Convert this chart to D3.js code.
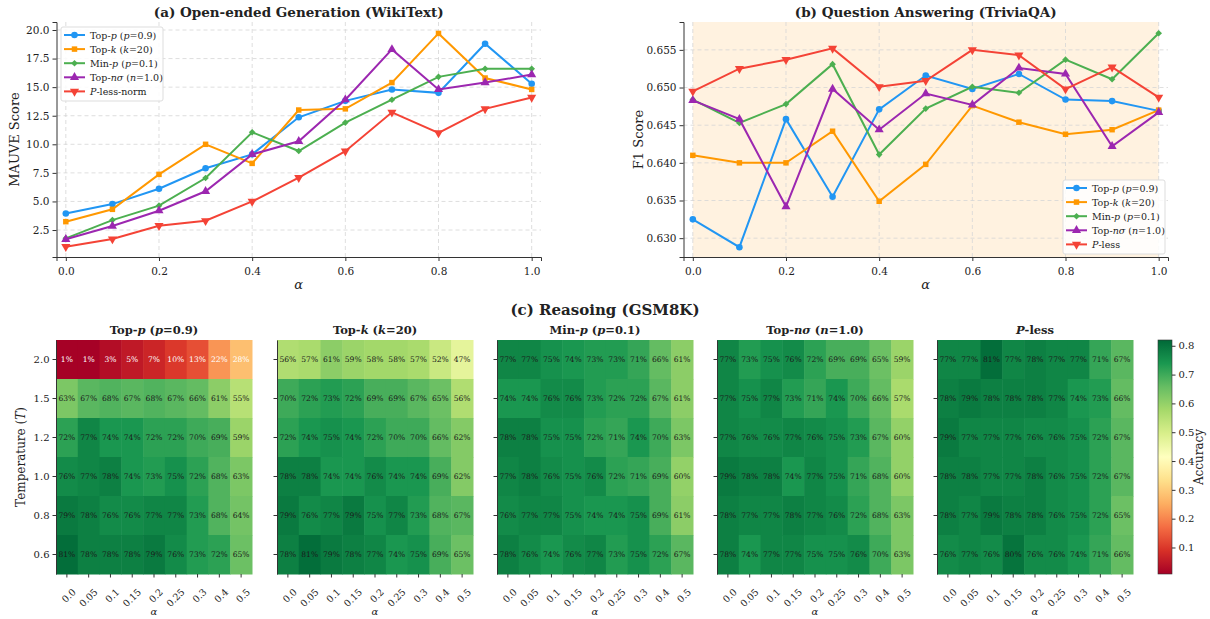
<!DOCTYPE html>
<html>
<head>
<meta charset="utf-8">
<script src="https://cdn.jsdelivr.net/npm/d3@7"></script>
<style>
  body { margin: 0; background: #fff; }
  svg text { font-family: "DejaVu Serif", serif; fill: #222; }
  .grid line { stroke: #d5d5d5; stroke-dasharray: 4,3; stroke-width: 0.8; }
  .axis path, .axis line { stroke: #333; }
</style>
</head>
<body>
<svg id="fig" width="1210" height="619"></svg>
<script>
'use strict'

// ---- data ----
const alphas = [0, 0.1, 0.2, 0.3, 0.4, 0.5, 0.6, 0.7, 0.8, 0.9, 1.0];

const mauveTopP  = [3.95, 4.77, 6.11, 7.90, 9.12, 12.36, 13.8, 14.8, 14.5, 18.8, 15.3];
const mauveTopK  = [3.23, 4.31, 7.37, 10.0, 8.33, 13.0, 13.1, 15.4, 19.7, 15.8, 14.8];
const mauveMinP  = [1.77, 3.37, 4.63, 7.05, 11.05, 9.41, 11.9, 13.9, 15.9, 16.6, 16.6];
const mauveTopN  = [1.69, 2.85, 4.19, 5.89, 9.12, 10.26, 13.9, 18.3, 14.8, 15.4, 16.1];
const mauvePless = [1.04, 1.71, 2.88, 3.31, 5.0, 7.08, 9.4, 12.8, 11.0, 13.1, 14.1];

const f1TopP  = [0.6325, 0.6288, 0.6458, 0.6355, 0.6471, 0.6516, 0.6498, 0.6518, 0.6484, 0.6482, 0.6469];
const f1TopK  = [0.6410, 0.6400, 0.6400, 0.6442, 0.6349, 0.6398, 0.6476, 0.6454, 0.6438, 0.6444, 0.6470];
const f1MinP  = [0.6484, 0.6453, 0.6478, 0.6531, 0.6411, 0.6472, 0.6501, 0.6493, 0.6537, 0.6511, 0.6572];
const f1TopN  = [0.6483, 0.6458, 0.6342, 0.6498, 0.6444, 0.6492, 0.6477, 0.6526, 0.6518, 0.6422, 0.6467];
const f1Pless = [0.6495, 0.6525, 0.6537, 0.6552, 0.6501, 0.6509, 0.6550, 0.6543, 0.6498, 0.6527, 0.6487];

const mauveTicks = [2.5, 5.0, 7.5, 10.0, 12.5, 15.0, 17.5, 20.0];
const f1Ticks = [0.630, 0.635, 0.640, 0.645, 0.650, 0.655];

const temps = ["2.0", "1.5", "1.2", "1.0", "0.8", "0.6"];
const heatAlphas = ["0.0", "0.05", "0.1", "0.15", "0.2", "0.25", "0.3", "0.4", "0.5"];

const accTopP = [
  [1, 1, 3, 5, 7, 10, 13, 22, 28],
  [63, 67, 68, 67, 68, 67, 66, 61, 55],
  [72, 77, 74, 74, 72, 72, 70, 69, 59],
  [76, 77, 78, 74, 73, 75, 72, 68, 63],
  [79, 78, 76, 76, 77, 77, 73, 68, 64],
  [81, 78, 78, 78, 79, 76, 73, 72, 65]
];
const accTopK = [
  [56, 57, 61, 59, 58, 58, 57, 52, 47],
  [70, 72, 73, 72, 69, 69, 67, 65, 56],
  [72, 74, 75, 74, 72, 70, 70, 66, 62],
  [78, 78, 74, 74, 76, 74, 74, 69, 62],
  [79, 76, 77, 79, 75, 77, 73, 68, 67],
  [78, 81, 79, 78, 77, 74, 75, 69, 65]
];
const accMinP = [
  [77, 77, 75, 74, 73, 73, 71, 66, 61],
  [74, 74, 76, 76, 73, 72, 72, 67, 61],
  [78, 78, 75, 75, 72, 71, 74, 70, 63],
  [77, 78, 76, 75, 76, 72, 71, 69, 60],
  [76, 77, 77, 75, 74, 74, 75, 69, 61],
  [78, 76, 74, 76, 77, 73, 75, 72, 67]
];
const accTopN = [
  [77, 73, 75, 76, 72, 69, 69, 65, 59],
  [77, 75, 77, 73, 71, 74, 70, 66, 57],
  [77, 76, 76, 77, 76, 75, 73, 67, 60],
  [79, 78, 78, 74, 77, 75, 71, 68, 60],
  [78, 77, 77, 78, 77, 76, 72, 68, 63],
  [78, 74, 77, 77, 75, 75, 76, 70, 63]
];
const accPless = [
  [77, 77, 81, 77, 78, 77, 77, 71, 67],
  [78, 79, 78, 78, 78, 77, 74, 73, 66],
  [79, 77, 77, 77, 76, 76, 75, 72, 67],
  [78, 78, 77, 77, 78, 76, 75, 72, 67],
  [78, 77, 79, 78, 78, 76, 75, 72, 65],
  [76, 77, 76, 80, 76, 76, 74, 71, 66]
];
const cbarTicks = [0.1, 0.2, 0.3, 0.4, 0.5, 0.6, 0.7, 0.8];

// label pieces: [text, italic]
const labTopP = [["Top-", 0], ["p", 1], [" (", 0], ["p", 1], ["=0.9)", 0]];
const labTopK = [["Top-", 0], ["k", 1], [" (", 0], ["k", 1], ["=20)", 0]];
const labMinP = [["Min-", 0], ["p", 1], [" (", 0], ["p", 1], ["=0.1)", 0]];
const labTopN = [["Top-", 0], ["nσ", 1], [" (", 0], ["n", 1], ["=1.0)", 0]];
const labPlessNorm = [["P", 1], ["-less-norm", 0]];
const labPless = [["P", 1], ["-less", 0]];

const colors = ["#2196F3", "#FF9800", "#4CAF50", "#9C27B0", "#F44336"];
const markers = ["circle", "square", "diamond", "tri", "tridown"];

const svg = d3.select("#fig");

function addRich(sel, parts) {
  parts.forEach(p => {
    sel.append("tspan").text(p[0]).style("font-style", p[1] ? "italic" : "normal");
  });
  return sel;
}

function markerPath(kind) {
  if (kind === "circle") return d3.symbol(d3.symbolCircle, 34)();
  if (kind === "square") return d3.symbol(d3.symbolSquare, 30)();
  if (kind === "diamond") return d3.symbol(d3.symbolSquare, 22)();
  return d3.symbol(d3.symbolTriangle, 36)();
}
function markerRot(kind) {
  if (kind === "diamond") return " rotate(45)";
  if (kind === "tridown") return " rotate(180)";
  return "";
}

function lineChart(o) {
  const g = svg.append("g");
  const x = d3.scaleLinear().domain([-0.02, 1.02]).range([o.left, o.right]);
  const y = d3.scaleLinear().domain(o.ydom).range([o.bottom, o.top]);

  if (o.band) {
    g.append("rect")
      .attr("x", x(0)).attr("width", x(1) - x(0))
      .attr("y", o.top).attr("height", o.bottom - o.top)
      .attr("fill", "#FF9800").attr("fill-opacity", 0.12);
  }

  const grid = g.append("g").attr("class", "grid");
  grid.selectAll("line.gx").data(x.ticks(5)).join("line")
    .attr("x1", d => x(d)).attr("x2", d => x(d))
    .attr("y1", o.top).attr("y2", o.bottom);
  grid.selectAll("line.gy").data(o.yticks).join("line")
    .attr("y1", d => y(d)).attr("y2", d => y(d))
    .attr("x1", o.left).attr("x2", o.right);

  g.append("g").attr("class", "axis")
    .attr("transform", "translate(0," + o.bottom + ")")
    .call(d3.axisBottom(x).ticks(5).tickFormat(d3.format(".1f")).tickSizeOuter(0).tickSize(4))
    .call(s => s.selectAll("text").attr("font-size", 10.5).attr("dy", "1.0em"));
  g.append("g").attr("class", "axis")
    .attr("transform", "translate(" + o.left + ",0)")
    .call(d3.axisLeft(y).tickValues(o.yticks).tickFormat(d3.format(o.fmt)).tickSizeOuter(0).tickSize(4))
    .call(s => s.selectAll("text").attr("font-size", 10.5));
  g.selectAll(".axis text").attr("font-family", "DejaVu Serif").attr("fill", "#222");

  const line = d3.line().x((d, i) => x(alphas[i])).y(d => y(d));
  o.series.forEach((s, k) => {
    g.append("path").datum(s).attr("d", line)
      .attr("fill", "none").attr("stroke", colors[k]).attr("stroke-width", 2);
    g.selectAll(null).data(s).join("path")
      .attr("d", markerPath(markers[k]))
      .attr("transform", (d, i) => "translate(" + x(alphas[i]) + "," + y(d) + ")" + markerRot(markers[k]))
      .attr("fill", colors[k]);
  });

  // title & labels
  svg.append("text").attr("x", (o.left + o.right) / 2).attr("y", 17)
    .attr("text-anchor", "middle").attr("font-size", 13.5).attr("font-weight", "bold")
    .text(o.title);
  svg.append("text").attr("x", (o.left + o.right) / 2).attr("y", 289)
    .attr("text-anchor", "middle").attr("font-size", 13).attr("font-style", "italic")
    .text("α");
  svg.append("text")
    .attr("transform", "translate(" + o.ylabX + "," + (o.top + o.bottom) / 2 + ") rotate(-90)")
    .attr("text-anchor", "middle").attr("font-size", 13).text(o.ylabel);

  // legend
  const lg = svg.append("g").attr("transform", "translate(" + o.leg[0] + "," + o.leg[1] + ")");
  lg.append("rect").attr("width", o.leg[2]).attr("height", 74).attr("rx", 2)
    .attr("fill", "#fff").attr("fill-opacity", 0.85).attr("stroke", "#ddd");
  o.labels.forEach((lab, k) => {
    const yy = 8 + k * 14.1;
    lg.append("line").attr("x1", 3).attr("x2", 24).attr("y1", yy).attr("y2", yy)
      .attr("stroke", colors[k]).attr("stroke-width", 2);
    lg.append("path").attr("d", markerPath(markers[k]))
      .attr("transform", "translate(13.5," + yy + ")" + markerRot(markers[k]))
      .attr("fill", colors[k]);
    addRich(lg.append("text").attr("x", 29).attr("y", yy + 3.5).attr("font-size", 9.5), lab);
  });
}

lineChart({
  left: 56.5, right: 541, top: 22, bottom: 257,
  ydom: [0.14, 20.7], yticks: mauveTicks, fmt: ".1f",
  series: [mauveTopP, mauveTopK, mauveMinP, mauveTopN, mauvePless],
  labels: [labTopP, labTopK, labMinP, labTopN, labPlessNorm],
  title: "(a) Open-ended Generation (WikiText)", ylabel: "MAUVE Score", ylabX: 19,
  leg: [61, 27, 102]
});

lineChart({
  left: 683.5, right: 1168, top: 22, bottom: 257,
  ydom: [0.6275, 0.6587], yticks: f1Ticks, fmt: ".3f", band: true,
  series: [f1TopP, f1TopK, f1MinP, f1TopN, f1Pless],
  labels: [labTopP, labTopK, labMinP, labTopN, labPless],
  title: "(b) Question Answering (TriviaQA)", ylabel: "F1 Score", ylabX: 643,
  leg: [1063, 180, 102]
});

// ---- heatmaps ----
svg.append("text").attr("x", 605).attr("y", 315).attr("text-anchor", "middle")
  .attr("font-size", 15).attr("font-weight", "bold").text("(c) Reasoing (GSM8K)");

const vmin = 0.008, vmax = 0.82;
const rdylgn = d3.piecewise(d3.interpolateRgb, ["#a50026", "#d73027", "#f46d43", "#fdae61", "#fee08b",
  "#ffffbf", "#d9ef8b", "#a6d96a", "#66bd63", "#1a9850", "#006837"]);
const color = v => rdylgn(Math.max(0, Math.min(1, (v - vmin) / (vmax - vmin))));

const heatTop = 340, heatH = 234, heatW = 196;
const panels = [
  { data: accTopP, label: labTopP, left: 56 },
  { data: accTopK, label: labTopK, left: 277 },
  { data: accMinP, label: labMinP, left: 497 },
  { data: accTopN, label: labTopN, left: 717 },
  { data: accPless, label: labPless, left: 937 }
];

panels.forEach((p, pi) => {
  const x = d3.scaleBand().domain(heatAlphas).range([p.left, p.left + heatW]);
  const y = d3.scaleBand().domain(temps).range([heatTop, heatTop + heatH]);
  const g = svg.append("g");
  const cells = [];
  p.data.forEach((row, r) => row.forEach((v, c) => cells.push({ t: temps[r], a: heatAlphas[c], v: v / 100 })));

  g.selectAll("rect").data(cells).join("rect")
    .attr("x", d => x(d.a)).attr("y", d => y(d.t))
    .attr("width", x.bandwidth() + 0.5).attr("height", y.bandwidth() + 0.5)
    .attr("fill", d => color(d.v));
  g.selectAll("text.cell").data(cells).join("text").attr("class", "cell")
    .attr("x", d => x(d.a) + x.bandwidth() / 2).attr("y", d => y(d.t) + y.bandwidth() / 2 + 2.7)
    .attr("text-anchor", "middle").attr("font-size", 7.6)
    .style("fill", d => d.v < 0.3 ? "#fff" : "#1a1a1a")
    .text(d => Math.round(d.v * 100) + "%");

  g.append("g").attr("class", "axis").attr("transform", "translate(" + p.left + ",0)")
    .call(d3.axisLeft(y).tickSize(3.5).tickSizeOuter(0).tickFormat(pi === 0 ? null : ""))
    .call(s => s.selectAll("text").attr("font-size", 10));
  g.append("g").attr("class", "axis").attr("transform", "translate(0," + (heatTop + heatH) + ")")
    .call(d3.axisBottom(x).tickSize(3.5).tickSizeOuter(0))
    .call(s => s.select(".domain").remove())
    .call(s => s.selectAll("text").attr("font-size", 9.5)
      .attr("text-anchor", "end").attr("dy", "0.3em")
      .attr("transform", "translate(3,12) rotate(-45)"));
  g.selectAll(".axis text").attr("font-family", "DejaVu Serif").attr("fill", "#222");

  addRich(svg.append("text").attr("x", p.left + heatW / 2).attr("y", 334)
    .attr("text-anchor", "middle").attr("font-size", 11.5).attr("font-weight", "bold"), p.label);
  svg.append("text").attr("x", p.left + heatW / 2).attr("y", 615)
    .attr("text-anchor", "middle").attr("font-size", 10).attr("font-style", "italic").text("α");
});

addRich(svg.append("text")
  .attr("transform", "translate(25," + (heatTop + heatH / 2) + ") rotate(-90)")
  .attr("text-anchor", "middle").attr("font-size", 12),
  [["Temperature (", 0], ["T", 1], [")", 0]]);

// ---- colorbar ----
const cbX = 1158, cbW = 14;
const cy = d3.scaleLinear().domain([vmin, vmax]).range([heatTop + heatH, heatTop]);
const defs = svg.append("defs");
const grad = defs.append("linearGradient").attr("id", "cbgrad")
  .attr("x1", 0).attr("x2", 0).attr("y1", 1).attr("y2", 0);
d3.range(0, 1.0001, 0.05).forEach(t => {
  grad.append("stop").attr("offset", t).attr("stop-color", rdylgn(t));
});
svg.append("rect").attr("x", cbX).attr("y", heatTop).attr("width", cbW).attr("height", heatH)
  .attr("fill", "url(#cbgrad)").attr("stroke", "#333").attr("stroke-width", 0.6);
svg.append("g").attr("class", "axis").attr("transform", "translate(" + (cbX + cbW) + ",0)")
  .call(d3.axisRight(cy).tickValues(cbarTicks).tickFormat(d3.format(".1f")).tickSize(3.5).tickSizeOuter(0))
  .call(s => s.select(".domain").remove())
  .call(s => s.selectAll("text").attr("font-size", 10).attr("font-family", "DejaVu Serif").attr("fill", "#222"));
svg.append("text")
  .attr("transform", "translate(1203," + (heatTop + heatH / 2) + ") rotate(-90)")
  .attr("text-anchor", "middle").attr("font-size", 12).text("Accuracy");
</script>
</body>
</html>
